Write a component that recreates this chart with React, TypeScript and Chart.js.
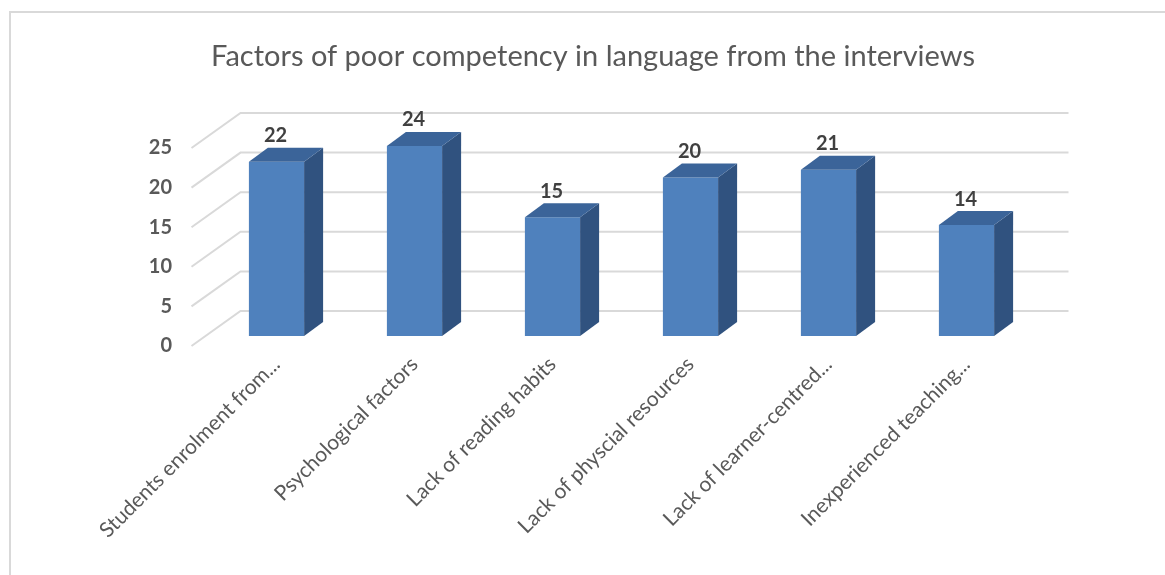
import React, { useEffect, useRef } from "react";
import { Chart, registerables } from "chart.js";

Chart.register(...registerables);

const title = "Factors of poor competency in language from the interviews";
const categories = [
  "Students enrolment from...",
  "Psychological factors",
  "Lack of reading habits",
  "Lack of physcial resources",
  "Lack of learner-centred...",
  "Inexperienced teaching...",
];
const values = [22, 24, 15, 20, 21, 14];
const yTicks = [0, 5, 10, 15, 20, 25];

const FONT = "Lato, 'Open Sans', sans-serif";
const TEXT = "#595959";
const FRONT = "#4f81bd";
const SIDE = "#30527f";
const TOP = "#3b6499";
const GRID = "#d9d9d9";

// 3D geometry offsets (px)
const BAR_DX = 19;
const BAR_DY = 14;
const FRONT_OFF = { x: -16, y: 10 };
const BACK_OFF = { x: 33, y: -25 };

const threeD = {
  id: "threeD",
  beforeDraw(chart: any) {
    const ctx = chart.ctx;
    ctx.save();
    ctx.fillStyle = "#ffffff";
    ctx.fillRect(0, 0, chart.width, chart.height);
    ctx.strokeStyle = GRID;
    ctx.lineWidth = 2;
    ctx.strokeRect(10, 12, chart.width + 20, chart.height + 20);
    // title
    ctx.fillStyle = TEXT;
    ctx.font = `29px ${FONT}`;
    ctx.textAlign = "center";
    ctx.textBaseline = "alphabetic";
    ctx.fillText(title, 593, 66);
    ctx.restore();
  },
  beforeDatasetsDraw(chart: any) {
    const ctx = chart.ctx;
    const ys = chart.scales.y;
    const area = chart.chartArea;
    ctx.save();
    ctx.strokeStyle = GRID;
    ctx.lineWidth = 2;
    for (const v of yTicks) {
      const py = ys.getPixelForValue(v);
      ctx.beginPath();
      ctx.moveTo(area.left + FRONT_OFF.x, py + FRONT_OFF.y);
      ctx.lineTo(area.left + BACK_OFF.x, py + BACK_OFF.y);
      ctx.lineTo(area.right + BACK_OFF.x, py + BACK_OFF.y);
      ctx.stroke();
      ctx.fillStyle = TEXT;
      ctx.font = `bold 20px ${FONT}`;
      ctx.textAlign = "right";
      ctx.textBaseline = "middle";
      ctx.fillText(String(v), 172, py + FRONT_OFF.y);
    }
    ctx.restore();
  },
  afterDatasetsDraw(chart: any) {
    const ctx = chart.ctx;
    const meta = chart.getDatasetMeta(0);
    ctx.save();
    meta.data.forEach((el: any, i: number) => {
      const { x, y, base, width } = el.getProps(["x", "y", "base", "width"], true);
      const l = x - width / 2;
      const r = x + width / 2;
      ctx.fillStyle = SIDE;
      ctx.beginPath();
      ctx.moveTo(r, y);
      ctx.lineTo(r + BAR_DX, y - BAR_DY);
      ctx.lineTo(r + BAR_DX, base - BAR_DY);
      ctx.lineTo(r, base);
      ctx.closePath();
      ctx.fill();
      ctx.fillStyle = TOP;
      ctx.beginPath();
      ctx.moveTo(l, y);
      ctx.lineTo(l + BAR_DX, y - BAR_DY);
      ctx.lineTo(r + BAR_DX, y - BAR_DY);
      ctx.lineTo(r, y);
      ctx.closePath();
      ctx.fill();
      ctx.fillStyle = "#404040";
      ctx.font = `bold 20px ${FONT}`;
      ctx.textAlign = "center";
      ctx.textBaseline = "middle";
      ctx.fillText(String(values[i]), x - 1, y - 26);
    });
    ctx.restore();
  },
};

export default function App() {
  const ref = useRef<HTMLCanvasElement>(null);
  useEffect(() => {
    document.body.style.margin = "0";
    const chart = new Chart(ref.current!, {
      type: "bar",
      data: {
        labels: categories,
        datasets: [
          {
            data: values,
            backgroundColor: FRONT,
            borderWidth: 0,
            categoryPercentage: 1,
            barPercentage: 0.4,
            clip: false as any,
          },
        ],
      },
      options: {
        responsive: false,
        animation: false,
        layout: { padding: { left: 207.5, right: 129.5, top: 138, bottom: 0 } },
        plugins: { legend: { display: false }, tooltip: { enabled: false }, title: { display: false } },
        scales: {
          x: {
            grid: { display: false },
            border: { display: false },
            ticks: {
              color: TEXT,
              font: { family: FONT, size: 21 },
              minRotation: 45,
              maxRotation: 45,
              autoSkip: false,
              padding: 8,
            },
            afterFit: (s: any) => {
              s.height = 239;
            },
          },
          y: {
            display: false,
            min: 0,
            max: 25,
            ticks: { stepSize: 5 },
          },
        },
      },
      plugins: [threeD],
    });
    return () => chart.destroy();
  }, []);
  return (
    <div style={{ position: "absolute", left: 0, top: 0, width: 1165, height: 575 }}>
      <canvas ref={ref} width={1165} height={575} />
    </div>
  );
}
